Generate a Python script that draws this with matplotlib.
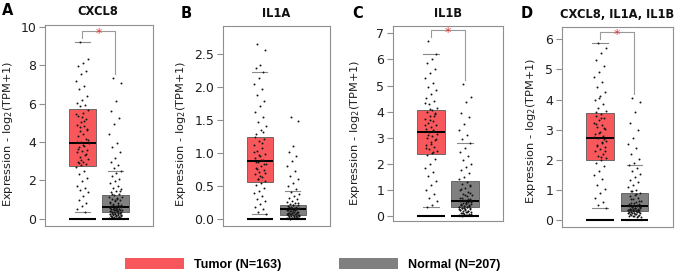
import matplotlib
matplotlib.use("Agg")
import matplotlib.pyplot as plt
from matplotlib.patches import Patch
import numpy as np

plt.rcParams["font.family"] = ["DejaVu Sans"]
plt.rcParams["mathtext.default"] = "regular"

# Panels and groups
genes = ["CXCL8", "IL1A", "IL1B", "CXCL8, IL1A, IL1B"]
letters = ["A", "B", "C", "D"]
groups = ["Tumor (N=163)", "Normal (N=207)"]
significant = [True, False, True, True]

# Box summaries (log2(TPM+1))
tumor_whislo = [0.37, 0.07, 0.37, 0.41]
tumor_q1 = [2.75, 0.566, 2.37, 1.98]
tumor_med = [3.97, 0.875, 3.21, 2.73]
tumor_q3 = [5.71, 1.24, 4.07, 3.56]
tumor_whishi = [9.23, 2.23, 6.21, 5.89]

normal_whislo = [0.0, 0.0, 0.0, 0.0]
normal_q1 = [0.33, 0.06, 0.34, 0.31]
normal_med = [0.63, 0.147, 0.59, 0.47]
normal_q3 = [1.25, 0.21, 1.35, 0.91]
normal_whishi = [2.5, 0.42, 2.79, 1.83]

# Sample points (estimated from the jittered dots)
cxcl8_tumor = [9.23, 8.31, 8.12, 7.95, 7.71, 7.52, 7.18, 6.94, 6.77, 6.42, 6.21, 6.05, 5.95, 5.88,
               5.66, 5.51, 5.37, 5.22, 5.05, 4.91, 4.85, 4.78, 4.62, 4.44, 4.31, 4.16, 4.02,
               3.93, 3.81, 3.72, 3.58, 3.55, 3.47, 3.33, 3.21, 3.12, 2.98, 2.95, 2.86, 2.79,
               2.68, 2.51, 2.33, 2.12, 1.94, 1.73, 1.61, 1.52, 1.38, 1.17, 0.96, 0.82, 0.64, 0.52, 0.37,
               4.55, 4.12, 3.86, 3.64, 3.38, 3.05, 5.45, 5.12, 2.88, 4.68, 5.31, 3.99]
cxcl8_normal = [7.32, 7.05, 6.12, 5.62, 5.24, 4.93, 4.41, 3.97, 3.72, 3.46, 3.18, 2.98, 2.81, 2.66,
                2.48, 2.36, 2.21, 2.07, 1.95, 1.84, 1.73, 1.62, 1.55, 1.46, 1.38, 1.31,
                1.22, 1.15, 1.09, 1.02, 0.97, 0.91, 0.86, 0.81, 0.77, 0.72, 0.68, 0.65,
                0.61, 0.58, 0.55, 0.52, 0.49, 0.46, 0.44, 0.41, 0.39, 0.37, 0.35, 0.34,
                0.31, 0.28, 0.26, 0.23, 0.21, 0.18, 0.16, 0.14, 0.12, 0.10, 0.08, 0.06, 0.05, 0.03, 0.02,
                0.45, 0.38, 0.29, 0.24, 0.19, 0.15, 0.11, 0.07,
                0.95, 0.84, 0.74, 0.69, 0.62, 0.57, 0.53, 0.50, 0.47, 0.43, 0.40, 0.36, 0.32,
                0.30, 0.27, 0.25, 0.22, 0.20, 0.17, 0.13, 0.09, 0.04, 1.12, 1.05, 1.28, 1.42]
il1a_tumor = [2.66, 2.56, 2.34, 2.29, 2.23, 2.14, 2.05, 1.97, 1.88, 1.79, 1.71, 1.63, 1.55, 1.47, 1.41, 1.35, 1.29,
              1.22, 1.18, 1.13, 1.08, 1.04, 0.99, 0.95, 0.92, 0.89, 0.86, 0.83, 0.80, 0.77, 0.74, 0.71, 0.68,
              0.64, 0.61, 0.58, 0.55, 0.51, 0.47, 0.43, 0.39, 0.35, 0.31, 0.27, 0.23, 0.19, 0.15, 0.11, 0.08,
              0.90, 0.87, 0.84, 0.97, 1.02, 1.15, 0.76, 0.70, 0.66, 1.25, 1.32, 0.60]
il1a_normal = [1.55, 1.49, 1.11, 1.02, 0.96, 0.88, 0.81, 0.73, 0.66, 0.61, 0.55, 0.50, 0.46, 0.41, 0.38,
               0.35, 0.32, 0.30, 0.28, 0.26, 0.24, 0.23, 0.22, 0.21, 0.20, 0.19, 0.18, 0.17, 0.16, 0.155,
               0.15, 0.14, 0.135, 0.13, 0.12, 0.11, 0.10, 0.095, 0.09, 0.085, 0.08, 0.075, 0.07, 0.065,
               0.06, 0.055, 0.05, 0.045, 0.04, 0.035, 0.03, 0.025, 0.02, 0.015, 0.01, 0.005,
               0.25, 0.21, 0.19, 0.17, 0.16, 0.14, 0.13, 0.12, 0.11, 0.10, 0.09, 0.08, 0.07, 0.06,
               0.05, 0.04, 0.03, 0.02]
il1b_tumor = [6.72, 6.21, 6.02, 5.85, 5.63, 5.47, 5.28, 5.11, 4.96, 4.82, 4.67, 4.53, 4.41, 4.28, 4.16,
              4.05, 3.98, 3.91, 3.83, 3.74, 3.66, 3.58, 3.49, 3.41, 3.33, 3.26, 3.21,
              3.16, 3.08, 2.99, 2.91, 2.83, 2.74, 2.66, 2.57, 2.49, 2.41,
              2.33, 2.18, 2.02, 1.86, 1.71, 1.53, 1.37, 1.19, 1.02, 0.86, 0.71, 0.58, 0.45, 0.37,
              3.95, 3.70, 3.50, 3.30, 3.12, 2.95, 2.78, 2.60, 3.85, 4.10, 4.35, 2.45]
il1b_normal = [5.05, 4.58, 4.36, 3.94, 3.79, 3.52, 3.31, 3.12, 2.96, 2.79, 2.62, 2.45, 2.31, 2.17, 2.02,
               1.89, 1.76, 1.64, 1.52, 1.43, 1.33, 1.25, 1.17, 1.09, 1.01, 0.94, 0.87, 0.81, 0.76,
               0.71, 0.67, 0.63, 0.58, 0.55, 0.52, 0.49, 0.46, 0.43, 0.41, 0.39, 0.37, 0.35,
               0.33, 0.30, 0.28, 0.25, 0.22, 0.20, 0.17, 0.15, 0.12, 0.10, 0.08, 0.06, 0.04, 0.02,
               0.57, 0.53, 0.44, 0.38, 0.32, 0.27, 0.18, 0.11,
               0.90, 0.80, 0.70, 0.65, 0.61, 0.56, 0.50, 0.47, 0.42, 0.40, 0.36, 0.34, 0.31,
               0.29, 0.26, 0.23, 0.19, 0.14, 0.09, 0.05, 1.05, 1.20]
combo_tumor = [5.89, 5.72, 5.55, 5.31, 5.12, 4.93, 4.76, 4.58, 4.41, 4.26, 4.12, 3.98, 3.84, 3.71, 3.62,
               3.53, 3.46, 3.38, 3.31, 3.23, 3.15, 3.08, 3.01, 2.93, 2.86, 2.79,
               2.71, 2.64, 2.57, 2.49, 2.42, 2.35, 2.28, 2.21, 2.14, 2.06, 1.99,
               1.91, 1.78, 1.63, 1.49, 1.35, 1.18, 1.03, 0.89, 0.74, 0.61, 0.49, 0.41,
               3.40, 3.20, 3.05, 2.90, 2.75, 2.60, 2.45, 2.30, 2.10, 3.60, 2.68, 4.05]
combo_normal = [4.06, 3.91, 3.58, 3.22, 2.98, 2.71, 2.52, 2.38, 2.19, 2.03, 1.91, 1.83, 1.72, 1.63, 1.52,
                1.43, 1.34, 1.26, 1.17, 1.09, 1.01, 0.95, 0.89, 0.84, 0.79, 0.74, 0.69, 0.64, 0.60,
                0.56, 0.53, 0.50, 0.48, 0.46, 0.44, 0.42, 0.40, 0.38, 0.37, 0.36, 0.35, 0.34, 0.33,
                0.32, 0.30, 0.28, 0.26, 0.24, 0.22, 0.20, 0.18, 0.16, 0.14, 0.12, 0.10,
                0.45, 0.41, 0.39, 0.34, 0.31, 0.29, 0.25, 0.21,
                0.70, 0.62, 0.58, 0.52, 0.49, 0.47, 0.43, 0.40, 0.37, 0.35, 0.33, 0.32, 0.30,
                0.28, 0.27, 0.23, 0.19, 0.15, 0.13, 0.11, 0.85, 0.97]

tumor_points = [cxcl8_tumor, il1a_tumor, il1b_tumor, combo_tumor]
normal_points = [cxcl8_normal, il1a_normal, il1b_normal, combo_normal]

# Axis settings per panel
yticks = [[0, 2, 4, 6, 8, 10], [0.0, 0.5, 1.0, 1.5, 2.0, 2.5],
          [0, 1, 2, 3, 4, 5, 6, 7], [0, 1, 2, 3, 4, 5, 6]]
ytick_fmt = ["{:g}", "{:.1f}", "{:g}", "{:g}"]
ylims = [(-0.365, 10.1), (-0.106, 2.93), (-0.19, 7.29), (-0.22, 6.42)]

# Layout in pixels: left, top, right, bottom
W, H = 677, 276
axes_px = [(45, 25, 152.7, 225.7), (222.7, 26, 330, 226),
           (392.7, 25.7, 503.3, 221.3), (561.7, 26.7, 672.6, 226.7)]
title_px = [(98, 11.5), (276.5, 13.5), (448, 13.7), (617, 14.5)]
letter_px = [(7.5, 10.5), (186, 13.3), (358, 13.5), (527, 13)]
ylabel_pos = [(-0.279, 0.457), (-0.323, 0.4625), (-0.278, 0.45), (-0.214, 0.478)]

RED = "#f8585c"
GRAY = "#808080"
SPINE = "#8f8f8f"

fig = plt.figure(figsize=(W / 100, H / 100), dpi=100)

pos = [1, 2]
bw = 0.8
jit = 0.19

for i in range(4):
    l, t, r, b = axes_px[i]
    ax = fig.add_axes([l / W, 1 - b / H, (r - l) / W, (b - t) / H])

    stats = [
        dict(whislo=tumor_whislo[i], q1=tumor_q1[i], med=tumor_med[i],
             q3=tumor_q3[i], whishi=tumor_whishi[i], fliers=[]),
        dict(whislo=normal_whislo[i], q1=normal_q1[i], med=normal_med[i],
             q3=normal_q3[i], whishi=normal_whishi[i], fliers=[]),
    ]
    bp = ax.bxp(stats, positions=pos, widths=bw, patch_artist=True,
                showfliers=False, capwidths=0.45,
                boxprops=dict(edgecolor="#5a5a5a", linewidth=0.6),
                medianprops=dict(color="black", linewidth=1.4),
                whiskerprops=dict(linewidth=0),
                capprops=dict(color="#8a8a8a", linewidth=0.8))
    for patch, c in zip(bp["boxes"], [RED, GRAY]):
        patch.set_facecolor(c)

    # baseline bars at zero under each box
    for p in pos:
        ax.hlines(0, p - bw / 2, p + bw / 2, color="black", linewidth=1.5, zorder=4)

    # jittered samples
    for p, vals in zip(pos, [tumor_points[i], normal_points[i]]):
        v = np.asarray(vals)
        off = ((np.arange(len(v)) * 0.618034 + 0.31) % 1 - 0.5) * 2 * jit
        ax.scatter(p + off, v, s=2.0, color="#161616", linewidths=0, zorder=3)

    ax.set_xlim(1 - 1.12, 2 + 1.12)
    ax.set_ylim(*ylims[i])
    ax.set_yticks(yticks[i])
    ax.set_yticklabels([ytick_fmt[i].format(v) for v in yticks[i]])
    ax.set_xticks([])
    ax.tick_params(axis="y", length=4, width=0.8, color=SPINE,
                   labelsize=9, pad=2.2, labelcolor="#1e1e1e")
    for s in ax.spines.values():
        s.set_color(SPINE)
        s.set_linewidth(0.8)

    ax.set_ylabel(r"Expression - log$_2$(TPM+1)", fontsize=8.2, color="#1e1e1e")
    ax.yaxis.set_label_coords(*ylabel_pos[i])

    # significance bracket
    if significant[i]:
        span = ylims[i][1] - ylims[i][0]
        top_t = max(tumor_points[i]) + 0.02 * span
        top_n = max(normal_points[i]) + 0.02 * span
        ybar = max(top_t, top_n) + 0.035 * span
        ax.plot([pos[0], pos[0], pos[1], pos[1]], [top_t, ybar, ybar, top_n],
                color="#9a9a9a", linewidth=0.8, zorder=2)
        ax.annotate("*", (1.5, ybar), xytext=(0, -2.2), textcoords="offset points",
                    color="#e03a3a", fontsize=9, ha="center", va="center", zorder=5)

    tx, ty = title_px[i]
    fig.text(tx / W, 1 - ty / H, genes[i], fontsize=8.3, fontweight="bold",
             ha="center", va="center", color="#111111")
    lx, ly = letter_px[i]
    fig.text(lx / W, 1 - ly / H, letters[i], fontsize=10.5, fontweight="bold",
             ha="center", va="center", color="black")

handles = [Patch(facecolor=RED, edgecolor="none"), Patch(facecolor=GRAY, edgecolor="none")]
fig.legend(handles, groups, loc="center", bbox_to_anchor=(0.4616, 0.0417), ncol=2,
           frameon=False, prop=dict(family="Liberation Sans", weight="bold", size=9),
           handlelength=4.7, handleheight=1.0, handletextpad=0.8, columnspacing=4.65)

fig.savefig("out.png", dpi=100)
